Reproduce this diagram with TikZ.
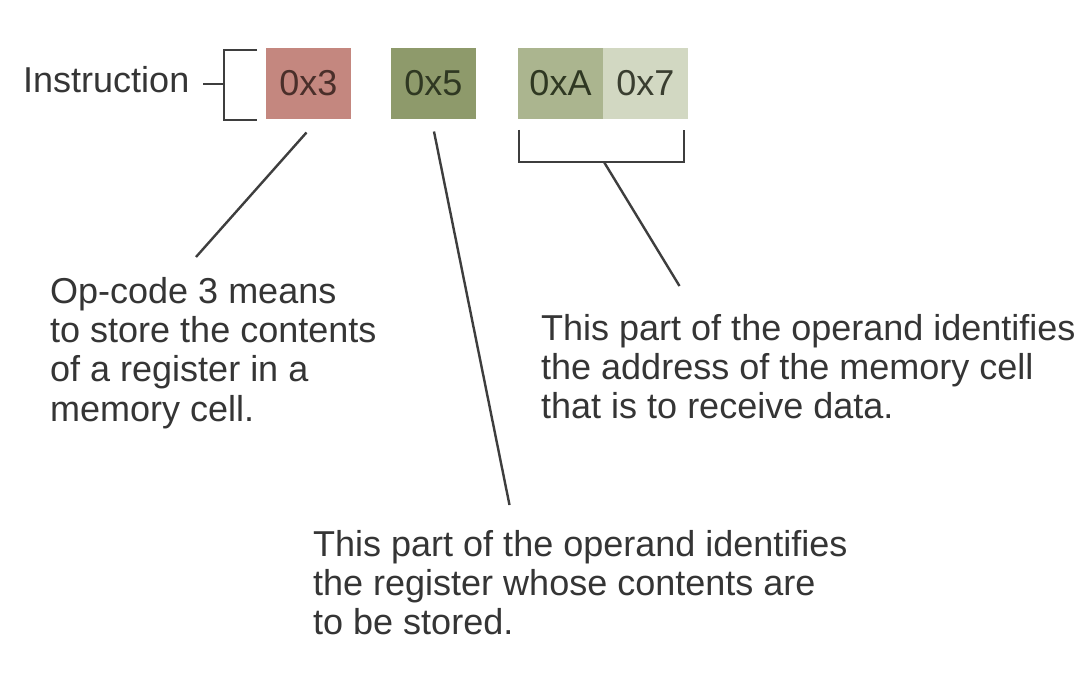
\documentclass[tikz,border=0pt]{standalone}
\usepackage{fontspec}
\setmainfont{Liberation Sans}
\begin{document}
\begin{tikzpicture}[x=1pt,y=-1pt,
  txt/.style={font=\fontsize{36}{39.3}\selectfont, text=textgray, inner sep=0pt, align=left},
  field/.style={minimum width=85pt, minimum height=71pt, inner sep=0pt, font=\fontsize{36}{40}\selectfont},
  conn/.style={draw=linegray, line width=2.4pt},
  brk/.style={draw=linegray, line width=2.4pt, line cap=butt}
]
\definecolor{textgray}{HTML}{353535}
\definecolor{linegray}{HTML}{3E3E3E}
\definecolor{opfill}{HTML}{C4877F}
\definecolor{regfill}{HTML}{8E9A6B}
\definecolor{adrfillA}{HTML}{ABB58F}
\definecolor{adrfillB}{HTML}{D2D8C2}
\useasboundingbox (0,0) rectangle (1088,682);
\fill[white] (0,0) rectangle (1088,682);

% instruction label
\node[txt, anchor=base west] (instr) at (23,93) {Instruction};

% fields
\node[field, fill=opfill, text={rgb,255:red,74;green,47;blue,42}] (op) at (308.5,83.5) {0x3};
\node[field, fill=regfill, text={rgb,255:red,47;green,56;blue,34}] (reg) at (433.5,83.5) {0x5};
\node[field, fill=adrfillA, text={rgb,255:red,47;green,56;blue,34}] (adrA) at (560.5,83.5) {0xA};
\node[field, fill=adrfillB, text={rgb,255:red,58;green,62;blue,48}] (adrB) at (645.5,83.5) {0x7};

% left bracket
\coordinate (lbt) at (257,50);
\coordinate (lbb) at (257,120);
\draw[brk] (lbt) -- (224,50) -- (224,120) -- (lbb);
\coordinate (dashL) at (203,84);
\coordinate (dashR) at (224,84);
\draw[brk] (dashL) -- (dashR);

% bottom bracket under address
\coordinate (bbl) at (519,130);
\coordinate (bbr) at (684,130);
\draw[brk] (bbl) -- (519,162) -- (684,162) -- (bbr);

% text blocks (base anchor = baseline of last line)
\node[txt, anchor=base west] (opnote) at (50,421) {Op-code 3 means\\to store the contents\\of a register in a\\memory cell.};
\node[txt, anchor=base west] (adrnote) at (541,418.6) {This part of the operand identifies\\the address of the memory cell\\that is to receive data.};
\node[txt, anchor=base west] (regnote) at (313,634.6) {This part of the operand identifies\\the register whose contents are\\to be stored.};

% connectors
\coordinate (opS) at (306.5,132.5);
\coordinate (opE) at (196,257);
\draw[conn] (opS) -- (opE);
\coordinate (regS) at (434,131.5);
\coordinate (regE) at (509.5,505);
\draw[conn] (regS) -- (regE);
\coordinate (adrS) at (604,162);
\coordinate (adrE) at (679.5,286);
\draw[conn] (adrS) -- (adrE);
\end{tikzpicture}
\end{document}
